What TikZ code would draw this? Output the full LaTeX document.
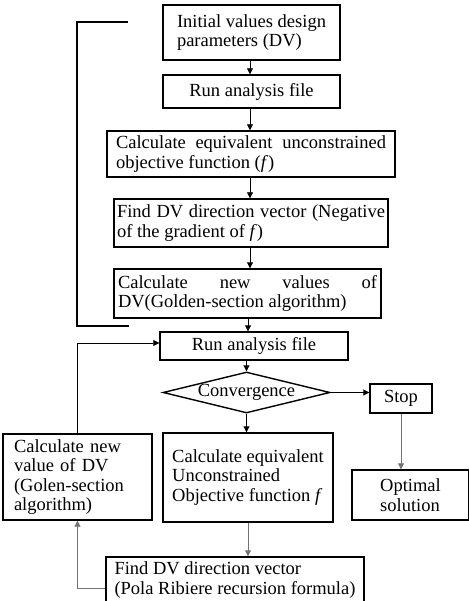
\documentclass[tikz,border=0pt]{standalone}
\usepackage{fontspec}
\setmainfont{Liberation Serif}
\usetikzlibrary{shapes.geometric, arrows.meta, positioning, calc}

\begin{document}
\begin{tikzpicture}[x=1pt, y=-1pt,
        stepbox/.style={draw, rectangle, line width=1.4pt, inner ysep=2pt, font=\fontsize{18.5}{19.5}\selectfont},
        decide/.style={draw, diamond, line width=1.4pt, aspect=4, inner sep=0pt, font=\fontsize{18.5}{19.5}\selectfont},
        flow/.style={line width=0.9pt, -{Triangle[width=6pt, length=6pt]}},
        backflow/.style={flow, color=black!55},
        loopline/.style={line width=1.3pt}]
        \useasboundingbox (0,0) rectangle (468,601);

        % first pass
        \node[stepbox, align=left, minimum width=177, minimum height=55] (init) at (251.5, 32.5) {Initial values design\\parameters (DV)};
        \node[stepbox, align=center, minimum width=177, minimum height=33] (runA) at (251.5, 91.5) {Run analysis file};
        \node[stepbox, align=justify, text width=270, inner xsep=9pt, minimum height=46] (objA) at (251, 154) {Calculate equivalent unconstrained\linebreak objective function (\textit{f})};
        \node[stepbox, align=justify, text width=268, inner xsep=3pt, minimum height=48] (dirA) at (251, 223) {Find DV direction vector (Negative\linebreak of the gradient of \textit{f})};
        \node[stepbox, align=justify, text width=259, inner xsep=4pt, minimum height=49] (newA) at (247.5, 293.5) {Calculate new values of\linebreak DV(Golden-section algorithm)};

        % iteration
        \node[stepbox, align=center, minimum width=188, minimum height=28] (runB) at (254, 346) {Run analysis file};
        \node[decide, minimum width=167, minimum height=41] (conv) at (246.5, 392.5) {Convergence};
        \node[stepbox, align=center, minimum width=62, minimum height=29] (stop) at (401, 398.5) {Stop};
        \node[stepbox, align=left, minimum width=117, minimum height=50] (opt) at (410.5, 495) {Optimal\\solution};
        \node[stepbox, align=left, text width=127, inner xsep=11pt, minimum height=86] (newB) at (77.5, 477) {Calculate new\\value of DV\\(Golen-section\\algorithm)};
        \node[stepbox, align=left, minimum width=170, minimum height=89] (objB) at (248, 477.5) {Calculate equivalent\\Unconstrained\\Objective function \textit{f}};
        \node[stepbox, align=left, minimum width=258, minimum height=46] (dirB) at (235, 580) {Find DV direction vector\\(Pola Ribiere recursion formula)};

        \coordinate (loopTop) at (128, 22);
        \coordinate (loopBot) at (129, 326);

        \draw [flow] (init.south -| 250,0) -- (runA.north -| 250,0);
        \draw [flow] (runA.south -| 250,0) -- (objA.north -| 250,0);
        \draw [flow] (objA.south -| 250,0) -- (dirA.north -| 250,0);
        \draw [flow] (dirA.south -| 250,0) -- (newA.north -| 250,0);
        \draw [flow] (newA.south -| 248,0) -- (runB.north -| 248,0);
        \draw [loopline] (loopBot) -- ++(-52,0) |- (loopTop);

        \draw [flow] (runB.south -| conv.north) -- (conv.north);
        \draw [flow] (conv.east) -- (conv.east -| stop.west);
        \draw [backflow] (stop.south) -- (stop.south |- opt.north);
        \draw [flow] (conv.south) -- (conv.south |- objB.north);
        \draw [backflow] (objB.south) -- (objB.south |- dirB.north);
        \draw [backflow] ([yshift=-8pt]dirB.west) -| (newB.south);
        \draw [flow, line width=0.7pt] (newB.north) |- ([yshift=3pt]runB.west);
    \end{tikzpicture}
\end{document}
